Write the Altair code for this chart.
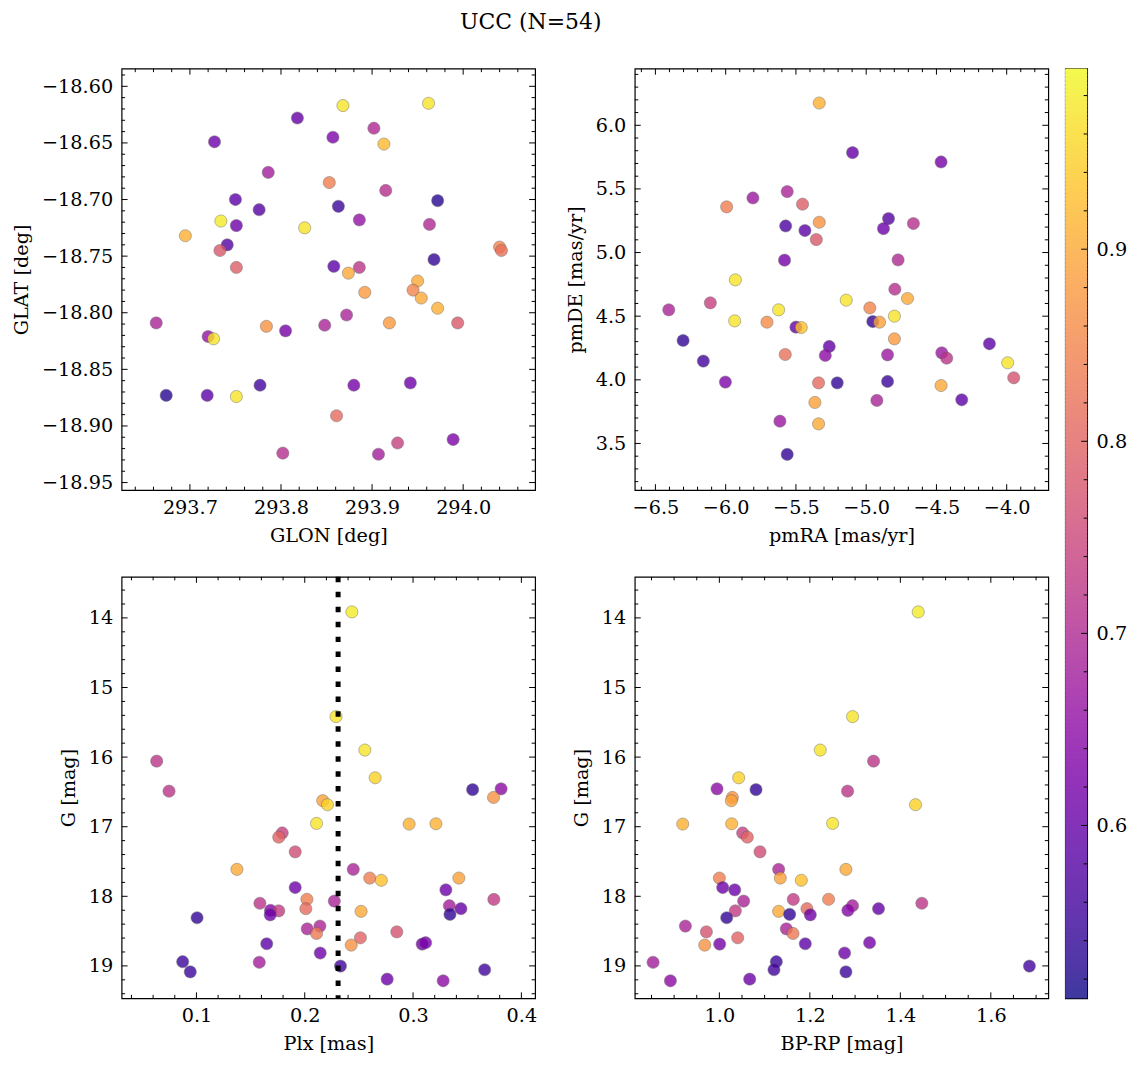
import altair as alt
import pandas as pd
import numpy as np

FONT = "DejaVu Serif"
FS = 19.3
W, H = 415, 423
MAJ, MIN = 6, 3.5
COLGAP, ROWGAP = 100, 87

title_txt = "UCC (N=54)"

# ---------------- top-left: GLON / GLAT ----------------
glon = [293.868, 293.962, 293.818, 293.857, 293.902, 293.913, 293.727, 293.786, 293.853, 293.915,
        293.750, 293.776, 293.863, 293.972, 293.734, 293.751, 293.826, 293.886, 293.963, 293.695,
        293.741, 293.733, 293.751, 293.858, 293.886, 293.874, 293.968, 294.040, 294.042, 293.950,
        293.945, 293.892, 293.954, 293.972, 293.663, 293.720, 293.726, 293.784, 293.805, 293.848,
        293.872, 293.919, 293.994, 293.674, 293.719, 293.751, 293.777, 293.880, 293.942, 293.861,
        293.802, 293.907, 293.928, 293.989]
glat = [-18.617, -18.615, -18.628, -18.645, -18.637, -18.651, -18.649, -18.676, -18.685, -18.692,
        -18.700, -18.709, -18.706, -18.701, -18.719, -18.723, -18.725, -18.718, -18.722, -18.732,
        -18.740, -18.745, -18.760, -18.759, -18.760, -18.765, -18.753, -18.742, -18.745, -18.772,
        -18.780, -18.782, -18.787, -18.796, -18.809, -18.821, -18.823, -18.812, -18.816, -18.811,
        -18.802, -18.809, -18.809, -18.873, -18.873, -18.874, -18.864, -18.864, -18.862, -18.891,
        -18.924, -18.925, -18.915, -18.912]
prob_pos = [0.97, 0.97, 0.60, 0.63, 0.70, 0.92, 0.61, 0.68, 0.84, 0.71,
            0.59, 0.58, 0.55, 0.53, 0.98, 0.61, 0.97, 0.66, 0.70, 0.91,
            0.58, 0.78, 0.79, 0.59, 0.72, 0.90, 0.54, 0.85, 0.82, 0.90,
            0.85, 0.88, 0.90, 0.91, 0.69, 0.66, 0.97, 0.87, 0.62, 0.69,
            0.69, 0.88, 0.78, 0.53, 0.59, 0.97, 0.56, 0.62, 0.61, 0.81,
            0.71, 0.68, 0.74, 0.63]

# ---------------- top-right: pmRA / pmDE ----------------
pmra = [-5.334, -5.097, -4.467, -5.562, -5.806, -5.993, -5.453, -5.334, -5.573, -5.436,
        -5.355, -4.841, -4.877, -4.664, -5.581, -4.773, -5.931, -4.796, -5.142, -4.706,
        -6.405, -6.109, -5.936, -5.623, -5.706, -5.500, -5.462, -4.974, -4.953, -4.905,
        -4.799, -4.799, -6.303, -6.159, -6.002, -5.576, -5.263, -5.291, -5.339, -5.206,
        -4.848, -4.848, -4.924, -5.365, -5.339, -5.614, -5.562, -4.462, -4.427, -4.467,
        -4.320, -4.123, -3.993, -3.950]
pmde = [6.175, 5.785, 5.712, 5.479, 5.429, 5.359, 5.380, 5.238, 5.209, 5.173,
        5.102, 5.267, 5.188, 5.228, 4.940, 4.942, 4.785, 4.712, 4.626, 4.639,
        4.550, 4.605, 4.463, 4.550, 4.453, 4.414, 4.411, 4.565, 4.458, 4.453,
        4.500, 4.322, 4.309, 4.147, 3.982, 4.199, 4.262, 4.191, 3.976, 3.976,
        4.196, 3.987, 3.838, 3.822, 3.654, 3.675, 3.414, 4.212, 4.170, 3.955,
        3.843, 4.283, 4.134, 4.016]
prob_pm = [0.91, 0.60, 0.62, 0.69, 0.67, 0.84, 0.79, 0.87, 0.57, 0.59,
           0.78, 0.58, 0.61, 0.71, 0.62, 0.70, 0.97, 0.71, 0.97, 0.90,
           0.69, 0.74, 0.97, 0.97, 0.86, 0.60, 0.93, 0.85, 0.54, 0.89,
           0.97, 0.88, 0.54, 0.56, 0.63, 0.82, 0.60, 0.65, 0.81, 0.54,
           0.67, 0.55, 0.69, 0.89, 0.90, 0.67, 0.54, 0.67, 0.72, 0.90,
           0.59, 0.59, 0.97, 0.77]

# ---------------- bottom: Plx, BP-RP, G ----------------
plx = [0.2435, 0.2289, 0.2555, 0.0633, 0.2650, 0.3813, 0.3550, 0.0747, 0.3743, 0.2166,
       0.2210, 0.2109, 0.2964, 0.3211, 0.1792, 0.1760, 0.1912, 0.1374, 0.2448, 0.2600,
       0.3423, 0.2707, 0.1912, 0.3303, 0.2020, 0.3746, 0.2273, 0.1586, 0.3335, 0.2010,
       0.3442, 0.1684, 0.1760, 0.2520, 0.1681, 0.3341, 0.1006, 0.2140, 0.2023, 0.2850,
       0.2109, 0.2514, 0.2429, 0.1649, 0.3084, 0.3116, 0.2143, 0.0873, 0.1580, 0.2330,
       0.3661, 0.0943, 0.2761, 0.3278]
bp_rp = [1.4395, 1.2944, 1.2230, 1.3408, 1.0427, 0.9948, 1.0810, 1.2834, 1.0287, 1.0265,
         1.4336, 1.2503, 0.9190, 1.0272, 1.0515, 1.0618, 1.0898, 1.2797, 1.1310, 1.0000,
         1.1347, 1.1811, 1.0074, 1.0339, 1.2414, 1.1634, 1.0537, 1.4475, 1.2944, 1.1936,
         1.3518, 1.2841, 1.0353, 1.1310, 1.2010, 1.1553, 1.0162, 0.9249, 1.1480, 0.9713,
         1.1627, 1.0405, 0.9676, 1.1899, 1.0007, 1.3320, 1.2768, 1.1259, 0.8535, 1.6853,
         1.1207, 1.2797, 1.0670, 0.8918]
gmag = [13.914, 15.418, 15.899, 16.058, 16.297, 16.456, 16.468, 16.489, 16.580, 16.626,
        16.684, 16.953, 16.962, 16.958, 17.090, 17.150, 17.361, 17.613, 17.613, 17.738,
        17.738, 17.770, 17.874, 17.907, 18.043, 18.045, 18.069, 18.100, 18.135, 18.178,
        18.178, 18.202, 18.209, 18.216, 18.266, 18.259, 18.308, 18.428, 18.468, 18.511,
        18.534, 18.596, 18.701, 18.682, 18.687, 18.667, 18.815, 18.940, 18.948, 19.003,
        19.055, 19.086, 19.190, 19.214]
prob_phot = [0.98, 0.97, 0.97, 0.72, 0.95, 0.65, 0.54, 0.72, 0.87, 0.89,
             0.95, 0.97, 0.91, 0.91, 0.74, 0.80, 0.76, 0.90, 0.69, 0.84,
             0.89, 0.93, 0.61, 0.61, 0.84, 0.73, 0.69, 0.72, 0.68, 0.81,
             0.60, 0.64, 0.73, 0.90, 0.61, 0.54, 0.54, 0.69, 0.69, 0.77,
             0.83, 0.80, 0.87, 0.59, 0.62, 0.62, 0.61, 0.55, 0.68, 0.56,
             0.56, 0.55, 0.61, 0.65]
plx_ref = 0.2308

# axis ranges and colour range
tl_xdom, tl_ydom = [293.625, 294.079], [-18.9567, -18.5844]
tr_xdom, tr_ydom = [-6.647, -3.704], [3.133, 6.445]
bl_xdom = [0.0309, 0.4127]
br_xdom = [0.813, 1.727]
g_dom = [13.41, 19.466]
cb_dom = [0.510, 0.994]

cscale = alt.Scale(scheme="plasma", domain=cb_dom)

AX = dict(labelFont=FONT, titleFont=FONT, labelFontSize=FS, titleFontSize=FS,
          titleFontWeight="normal", labelColor="black", titleColor="black",
          ticks=False, tickSize=0, domain=False, grid=False)


def rng(a, b, s, excl=()):
    vals = np.round(np.arange(a, b + s / 2, s), 5)
    ex = set(float(v) for v in np.round(excl, 5))
    return [float(v) for v in vals if float(v) not in ex]


def panel(df, xf, yf, cf, xdom, ydom, xmaj, xmin, ymaj, ymin, xtitle, ytitle,
          xfmt, yfmt, yrev=False, extra=None):
    xs = alt.Scale(domain=xdom, nice=False, zero=False)
    ys = alt.Scale(domain=ydom, nice=False, zero=False, reverse=yrev)
    xax = alt.Axis(values=xmaj, format=xfmt, title=xtitle,
                   labelPadding=8, titlePadding=9, **AX)
    yax = alt.Axis(values=ymaj, format=yfmt, title=ytitle,
                   labelPadding=9, titlePadding=10, **AX)
    pts = alt.Chart(df).mark_circle(size=150, opacity=0.8, stroke="#555555",
                                    strokeWidth=0.5).encode(
        x=alt.X(f"{xf}:Q", scale=xs, axis=xax),
        y=alt.Y(f"{yf}:Q", scale=ys, axis=yax),
        color=alt.Color(f"{cf}:Q", scale=cscale, legend=None),
    )
    layers = [pts]
    if extra is not None:
        layers.append(extra(xs, xax))
    for vals, ln in ((xmaj, MAJ), (xmin, MIN)):
        d = pd.DataFrame({"v": vals})
        for top in (False, True):
            layers.append(alt.Chart(d).mark_rule(color="black", strokeWidth=1).encode(
                x=alt.X("v:Q", scale=xs, axis=xax),
                y=alt.value(0 if top else H), y2=alt.value(ln if top else H - ln)))
    for vals, ln in ((ymaj, MAJ), (ymin, MIN)):
        d = pd.DataFrame({"v": vals})
        for right in (False, True):
            layers.append(alt.Chart(d).mark_rule(color="black", strokeWidth=1).encode(
                y=alt.Y("v:Q", scale=ys, axis=yax),
                x=alt.value(W if right else 0), x2=alt.value(W - ln if right else ln)))
    return alt.layer(*layers).properties(width=W, height=H)


df_pos = pd.DataFrame({"GLON": glon, "GLAT": glat, "prob": prob_pos})
df_pm = pd.DataFrame({"pmRA": pmra, "pmDE": pmde, "prob": prob_pm})
df_ph = pd.DataFrame({"Plx": plx, "BPRP": bp_rp, "G": gmag, "prob": prob_phot})

tl_xmaj = [293.7, 293.8, 293.9, 294.0]
tl_ymaj = rng(-18.95, -18.60, 0.05)
tl = panel(df_pos, "GLON", "GLAT", "prob", tl_xdom, tl_ydom,
           tl_xmaj, rng(293.64, 294.06, 0.02, tl_xmaj),
           tl_ymaj, rng(-18.95, -18.59, 0.01, tl_ymaj),
           "GLON [deg]", "GLAT [deg]", ".1f", ".2f")

tr_xmaj = rng(-6.5, -4.0, 0.5)
tr_ymaj = rng(3.5, 6.0, 0.5)
tr = panel(df_pm, "pmRA", "pmDE", "prob", tr_xdom, tr_ydom,
           tr_xmaj, rng(-6.6, -3.8, 0.1, tr_xmaj),
           tr_ymaj, rng(3.2, 6.4, 0.1, tr_ymaj),
           "pmRA [mas/yr]", "pmDE [mas/yr]", ".1f", ".1f")

g_maj = rng(14, 19, 1)
g_min = rng(13.6, 19.4, 0.2, g_maj)


def ref_line(xs, xax):
    return alt.Chart(pd.DataFrame({"plx": [plx_ref]})).mark_rule(
        color="black", strokeWidth=5, strokeDash=[5.5, 9.5]).encode(
        x=alt.X("plx:Q", scale=xs, axis=xax))


bl_xmaj = [0.1, 0.2, 0.3, 0.4]
bl = panel(df_ph, "Plx", "G", "prob", bl_xdom, g_dom,
           bl_xmaj, rng(0.04, 0.40, 0.02, bl_xmaj), g_maj, g_min,
           "Plx [mas]", "G [mag]", ".1f", "d", yrev=True, extra=ref_line)

br_xmaj = [1.0, 1.2, 1.4, 1.6]
br = panel(df_ph, "BPRP", "G", "prob", br_xdom, g_dom,
           br_xmaj, rng(0.85, 1.70, 0.05, br_xmaj), g_maj, g_min,
           "BP-RP [mag]", "G [mag]", ".1f", "d", yrev=True)

# ---------------- colour bar ----------------
CBW = 22
CBH = 2 * H + ROWGAP
edges = np.linspace(cb_dom[0], cb_dom[1], 241)
step = edges[1] - edges[0]
cb_df = pd.DataFrame({"lo": edges[:-1], "hi": edges[:-1] + step * 1.6,
                      "mid": edges[:-1] + step / 2})
cb_df["hi"] = cb_df["hi"].clip(upper=cb_dom[1])
cbs = alt.Scale(domain=cb_dom, nice=False, zero=False)
cb_maj = [0.6, 0.7, 0.8, 0.9]
cb_min = rng(0.52, 0.98, 0.02, cb_maj)
cbax = alt.Axis(orient="right", values=cb_maj, format=".1f", title=None,
                labelPadding=9, **AX)
cb_rect = alt.Chart(cb_df).mark_rect(opacity=1).encode(
    y=alt.Y("lo:Q", scale=cbs, axis=cbax),
    y2="hi:Q",
    x=alt.value(0), x2=alt.value(CBW),
    color=alt.Color("mid:Q", scale=cscale, legend=None),
)
# white veil = same transparency as the scatter points
cb_veil = alt.Chart(pd.DataFrame({"a": [cb_dom[0]], "b": [cb_dom[1]]})).mark_rect(
    color="white", opacity=0.2).encode(
    y=alt.Y("a:Q", scale=cbs, axis=cbax), y2="b:Q",
    x=alt.value(0), x2=alt.value(CBW))
cb_layers = [cb_rect, cb_veil]
for vals, ln in ((cb_maj, MAJ), (cb_min, MIN)):
    cb_layers.append(alt.Chart(pd.DataFrame({"v": vals})).mark_rule(
        color="black", strokeWidth=1).encode(
        y=alt.Y("v:Q", scale=cbs, axis=cbax),
        x=alt.value(CBW), x2=alt.value(CBW - ln)))
cbar = alt.layer(*cb_layers).properties(width=CBW, height=CBH)

grid = alt.concat(tl, tr, bl, br, columns=2, bounds="flush",
                  spacing={"row": ROWGAP, "column": COLGAP})

chart = alt.hconcat(grid, cbar, spacing=14).properties(
    title=alt.TitleParams(title_txt, anchor="middle", offset=34, dx=-39),
    padding={"left": 4, "top": 0, "right": 0, "bottom": 0},
).configure_view(
    stroke="black", strokeWidth=1.2
).configure_axis(
    labelFont=FONT, titleFont=FONT, labelFontSize=FS, titleFontSize=FS,
    titleFontWeight="normal", labelColor="black", titleColor="black",
).configure_title(
    font=FONT, fontSize=22, fontWeight="normal", color="black",
)

chart.save("out.html", embed_options={"renderer": "svg", "actions": False})
